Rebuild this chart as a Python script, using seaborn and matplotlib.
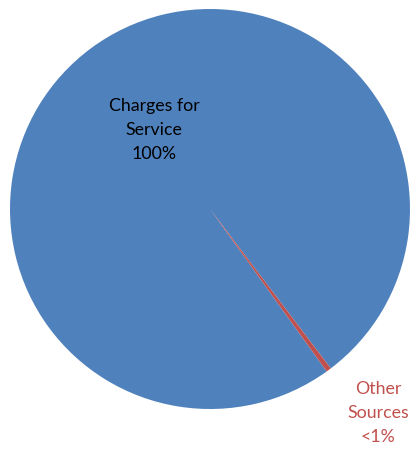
import matplotlib
matplotlib.use("Agg")
import matplotlib.pyplot as plt
import seaborn as sns

categories = ["Charges for Service", "Other Sources"]
shares = [99.6, 0.4]
label_texts = ["Charges for\nService\n100%", "Other\nSources\n<1%"]
colors = ["#4F81BD", "#C0504D"]

sns.set_theme(style="white")
plt.rcParams["font.family"] = ["Lato", "DejaVu Sans"]

fig = plt.figure(figsize=(4.13, 4.49), dpi=100)
# axes box sized so that the unit circle fills it
ax = fig.add_axes([10 / 413, 40 / 449, 400 / 413, 400 / 449])

pal = sns.color_palette(colors)
wedges, _ = ax.pie(shares, colors=pal, startangle=-54.3, counterclock=False,
                   radius=1.0, wedgeprops=dict(linewidth=0))
ax.set_xlim(-1, 1)
ax.set_ylim(-1, 1)
ax.set_aspect("equal")
ax.axis("off")

ax.text(-0.28, 0.395, label_texts[0], ha="center", va="center", fontsize=12.8,
        color="black", linespacing=1.6)
ax.text(0.84, -1.02, label_texts[1], ha="center", va="center", fontsize=12.8,
        color="#C0504D", linespacing=1.6, clip_on=False)

fig.savefig("out.png", dpi=100)
